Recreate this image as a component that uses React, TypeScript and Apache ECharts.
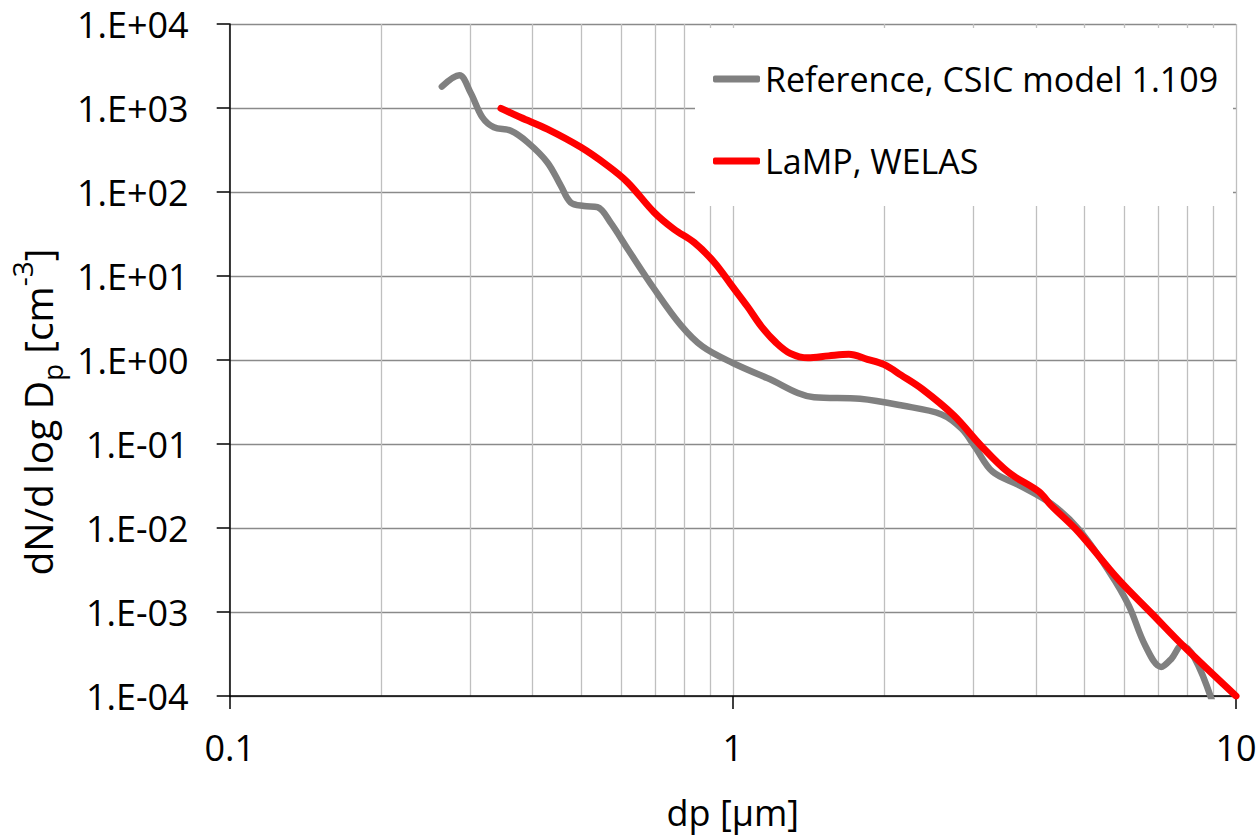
import React, { useEffect, useRef } from "react";
import * as echarts from "echarts";

const FONT = "'Open Sans', 'Noto Sans', sans-serif";

const seriesNames = ["Reference, CSIC model 1.109", "LaMP, WELAS"];

// Reference, CSIC model 1.109 (gray)
const refDp = [
  0.264, 0.286, 0.301, 0.318, 0.335, 0.362, 0.391, 0.428, 0.455, 0.476, 0.506,
  0.538, 0.572, 0.618, 0.698, 0.788, 0.87, 1.0, 1.17, 1.45, 1.79, 2.17, 2.6,
  2.85, 3.03, 3.28, 3.72, 4.29, 4.86, 5.6, 6.12, 6.6, 7.1, 7.45, 7.8, 8.28, 8.95,
];
const refConc = [
  1800, 2450, 1530, 770, 590, 535, 390, 225, 119, 75, 68, 66, 43, 21, 7.0, 2.6,
  1.45, 0.92, 0.61, 0.36, 0.345, 0.287, 0.225, 0.152, 0.092, 0.047, 0.032,
  0.0195, 0.0098, 0.003, 0.0012, 0.0004, 0.000222, 0.00028, 0.0004, 0.00028,
  0.00009,
];

// LaMP, WELAS (red)
const welasDp = [
  0.346, 0.379, 0.428, 0.499, 0.564, 0.618, 0.698, 0.764, 0.838, 0.918, 0.99,
  1.07, 1.14, 1.22, 1.3, 1.41, 1.55, 1.7, 1.85, 2.0, 2.16, 2.38, 2.75, 3.11,
  3.53, 4.06, 4.29, 4.86, 5.82, 6.8, 7.89, 10,
];
const welasConc = [
  990, 770, 560, 340, 205, 130, 57, 36, 25, 14.6, 8.0, 4.3, 2.5, 1.6, 1.2,
  1.06, 1.12, 1.17, 1.02, 0.88, 0.66, 0.45, 0.218, 0.096, 0.046, 0.027, 0.0186,
  0.009, 0.0025, 0.00096, 0.000385, 0.0001,
];

const xMin = 0.1;
const xMax = 10;
const yMin = 1e-4;
const yMax = 1e4;

function fmtY(v: number): string {
  const e = Math.round(Math.log10(v));
  const a = Math.abs(e);
  return "1.E" + (e < 0 ? "-" : "+") + (a < 10 ? "0" : "") + a;
}

export default function App() {
  const ref = useRef<HTMLDivElement>(null);
  useEffect(() => {
    const chart = echarts.init(ref.current!, null, { renderer: "svg" });
    chart.setOption({
      animation: false,
      backgroundColor: "#ffffff",
      textStyle: { fontFamily: FONT },
      grid: { left: 229, right: 24, top: 24, bottom: 137, containLabel: false },
      xAxis: {
        type: "log",
        logBase: 10,
        min: xMin,
        max: xMax,
        splitNumber: 2,
        name: "dp [µm]",
        nameLocation: "middle",
        nameGap: 98,
        nameTextStyle: { fontSize: 36, color: "#000", fontFamily: FONT },
        axisLine: { show: true, onZero: false, lineStyle: { color: "#000", width: 1.5 } },
        axisTick: { show: true, length: 13, lineStyle: { color: "#000", width: 1.5 } },
        axisLabel: {
          fontSize: 36,
          color: "#000",
          margin: 33,
          fontFamily: FONT,
          formatter: (v: number) => String(+Number(v).toPrecision(3)),
        },
        splitLine: { show: true, lineStyle: { color: "#bfbfbf", width: 1.3 } },
        minorTick: { show: false, splitNumber: 9 },
        minorSplitLine: { show: true, lineStyle: { color: "#bfbfbf", width: 1.3 } },
      },
      yAxis: {
        type: "log",
        logBase: 10,
        min: yMin,
        max: yMax,
        splitNumber: 8,
        name: "{m|dN/d log D}{sub|p}{m| [cm}{sup|-3}{m|]}",
        nameLocation: "middle",
        nameRotate: 90,
        nameGap: 163,
        nameTextStyle: {
          color: "#000",
          fontFamily: FONT,
          padding: [0, 104, 0, 0],
          rich: {
            m: { fontSize: 39, lineHeight: 58, color: "#000", fontFamily: FONT, verticalAlign: "middle" },
            sub: { fontSize: 28, lineHeight: 28, color: "#000", fontFamily: FONT, verticalAlign: "bottom" },
            sup: { fontSize: 28, lineHeight: 28, color: "#000", fontFamily: FONT, verticalAlign: "top" },
          },
        },
        axisLine: { show: true, onZero: false, lineStyle: { color: "#000", width: 1.5 } },
        axisTick: { show: true, length: 13, lineStyle: { color: "#000", width: 1.5 } },
        axisLabel: {
          fontSize: 36,
          color: "#000",
          margin: 41,
          fontFamily: FONT,
          formatter: (v: number) => fmtY(v),
        },
        splitLine: { show: true, lineStyle: { color: "#8a8a8a", width: 1.3 } },
      },
      legend: {
        orient: "vertical",
        left: 713,
        top: 59,
        padding: 0,
        itemWidth: 47,
        itemHeight: 7,
        itemGap: 42,
        icon: "roundRect",
        selectedMode: false,
        data: seriesNames,
        z: 10,
        textStyle: { fontSize: 34, color: "#000", lineHeight: 40, fontFamily: FONT },
      },
      graphic: [
        {
          type: "rect",
          z: 5,
          shape: { x: 695, y: 28, width: 538, height: 178 },
          style: { fill: "#ffffff" },
          silent: true,
        },
      ],
      series: [
        {
          name: seriesNames[0],
          type: "line",
          data: refDp.map((x, i) => [x, refConc[i]]),
          smooth: 0.35,
          symbol: "none",
          clip: true,
          z: 2,
          itemStyle: { color: "#808080" },
          lineStyle: { color: "#808080", width: 6.5, cap: "round", join: "round" },
        },
        {
          name: seriesNames[1],
          type: "line",
          data: welasDp.map((x, i) => [x, welasConc[i]]),
          smooth: 0.35,
          symbol: "none",
          clip: true,
          z: 3,
          itemStyle: { color: "#ff0000" },
          lineStyle: { color: "#ff0000", width: 7, cap: "round", join: "round" },
        },
      ],
    });
    return () => chart.dispose();
  }, []);
  return (
    <div
      ref={ref}
      style={{ position: "absolute", left: 0, top: 0, width: 1260, height: 835, background: "#fff" }}
    />
  );
}
